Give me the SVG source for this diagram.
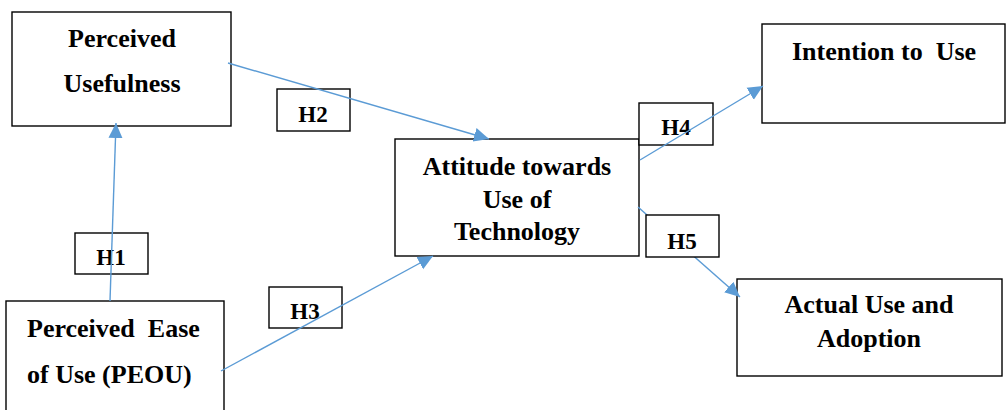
<svg xmlns="http://www.w3.org/2000/svg" width="1008" height="410" viewBox="0 0 1008 410">
  <style>
    .box { fill: #ffffff; stroke: #000000; stroke-width: 1.4; }
    .t { font-family: "Liberation Serif", "Times New Roman", serif; font-weight: bold; font-size: 26px; fill: #000000; text-anchor: middle; }
    .s { text-anchor: start; }
    .h { font-family: "Liberation Serif", "Times New Roman", serif; font-weight: bold; font-size: 23px; fill: #000000; text-anchor: middle; }
    .c { stroke: #5B9BD5; stroke-width: 1.4; fill: none; marker-end: url(#arr); }
  </style>
  <defs>
    <marker id="arr" markerUnits="userSpaceOnUse" markerWidth="16" markerHeight="16" viewBox="0 0 16 16" refX="15" refY="8" orient="auto">
      <path d="M0,1 L15,8 L0,15 Z" fill="#5B9BD5"/>
    </marker>
  </defs>
  <rect width="1008" height="410" fill="#ffffff"/>

  <g id="pu">
    <rect class="box" x="12" y="12" width="219" height="114"/>
    <text class="t" x="122" y="47">Perceived</text>
    <text class="t" x="122" y="92">Usefulness</text>
  </g>
  <g id="peou">
    <rect class="box" x="6" y="301" width="218" height="120"/>
    <text class="t s" x="27" y="337" xml:space="preserve">Perceived  Ease</text>
    <text class="t s" x="27" y="383">of Use (PEOU)</text>
  </g>
  <g id="att">
    <rect class="box" x="395" y="139" width="244" height="117"/>
    <text class="t" x="517" y="175">Attitude towards</text>
    <text class="t" x="517" y="208">Use of</text>
    <text class="t" x="517" y="240">Technology</text>
  </g>
  <g id="itu">
    <rect class="box" x="762" y="24" width="243" height="99"/>
    <text class="t" x="884" y="60" xml:space="preserve">Intention to  Use</text>
  </g>
  <g id="aua">
    <rect class="box" x="737" y="279" width="265" height="97"/>
    <text class="t" x="869" y="313">Actual Use and</text>
    <text class="t" x="869" y="347">Adoption</text>
  </g>

  <g id="h1"><rect class="box" x="75" y="233" width="73" height="41"/><text class="h" x="111" y="265">H1</text></g>
  <g id="h2"><rect class="box" x="277" y="89" width="73" height="42"/><text class="h" x="313" y="122">H2</text></g>
  <g id="h3"><rect class="box" x="269" y="287" width="73" height="41"/><text class="h" x="305" y="319">H3</text></g>
  <g id="h4"><rect class="box" x="639" y="103" width="74" height="42"/><text class="h" x="676" y="135">H4</text></g>

  <g id="connectors">
    <line class="c" x1="110" y1="301" x2="116" y2="123"/>
    <line class="c" x1="228" y1="63" x2="489" y2="139"/>
    <line class="c" x1="221" y1="371" x2="433" y2="256"/>
    <line class="c" x1="640" y1="160" x2="763" y2="86"/>
    <line class="c" x1="638" y1="207" x2="740" y2="297"/>
  </g>

  <g id="h5"><rect class="box" x="646" y="215" width="73" height="42"/><text class="h" x="682" y="249">H5</text></g>
</svg>
